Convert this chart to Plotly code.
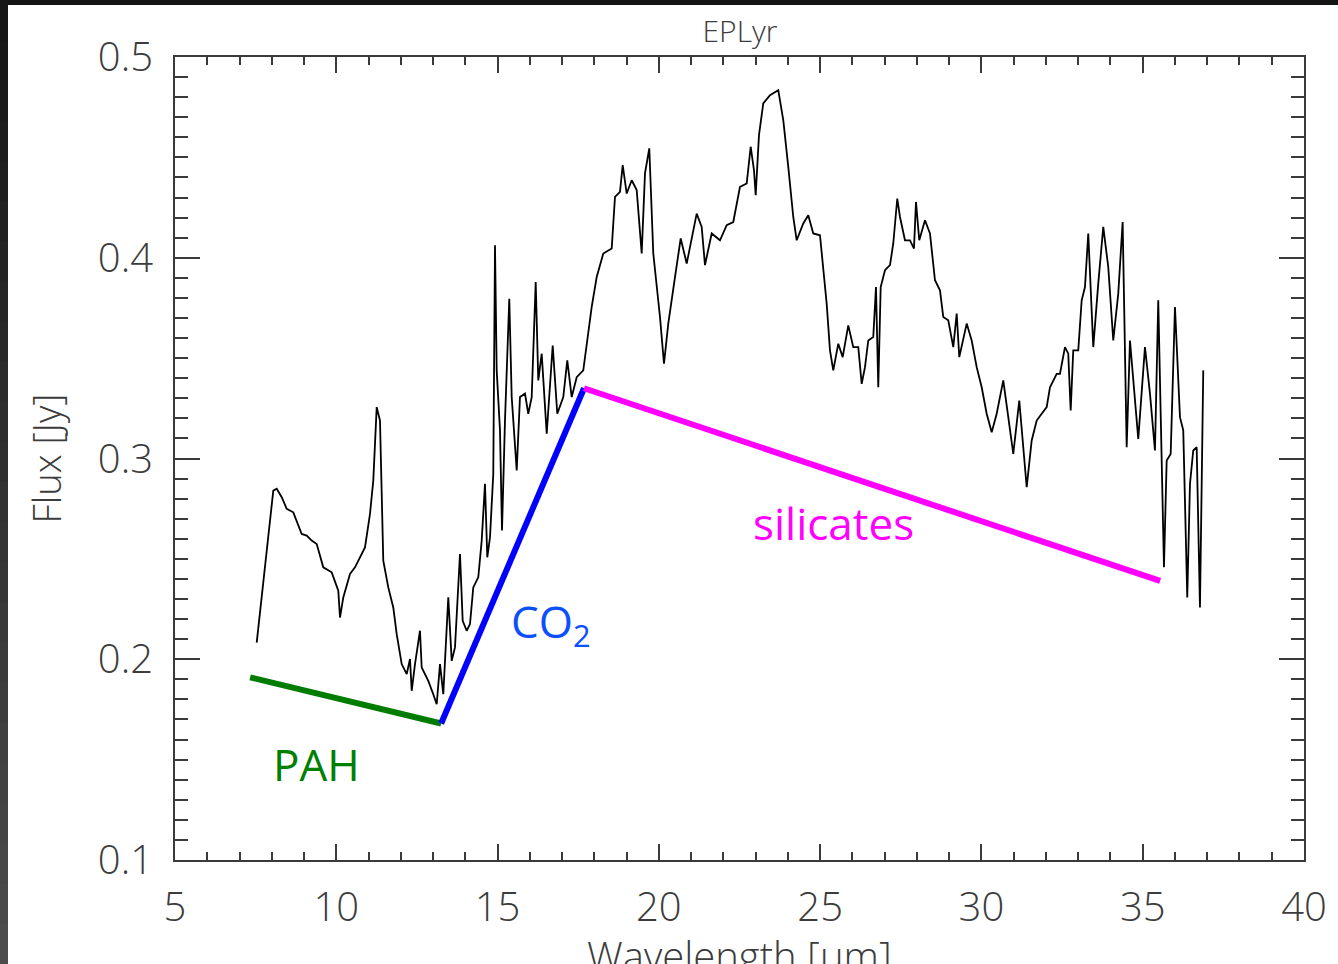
import plotly.graph_objects as go

# ---- data ----
wavelength = [7.533, 8.047, 8.153, 8.308, 8.463, 8.667, 8.928, 9.083, 9.238, 9.393,
              9.597, 9.858, 10.062, 10.115, 10.217, 10.425, 10.58, 10.735, 10.89, 11.045,
              11.147, 11.253, 11.355, 11.457, 11.612, 11.767, 11.873, 12.028, 12.183, 12.285,
              12.338, 12.44, 12.595, 12.648, 12.852, 13.007, 13.113, 13.215, 13.317, 13.472,
              13.578, 13.68, 13.835, 13.919, 14.043, 14.145, 14.247, 14.402, 14.508, 14.61,
              14.681, 14.765, 14.867, 14.92, 14.973, 15.075, 15.137, 15.23, 15.363, 15.438,
              15.593, 15.695, 15.85, 15.952, 16.058, 16.182, 16.262, 16.368, 16.523, 16.709,
              16.851, 17.037, 17.161, 17.298, 17.453, 17.657, 17.812, 17.918, 18.073, 18.277,
              18.538, 18.64, 18.795, 18.879, 19.003, 19.158, 19.313, 19.468, 19.57, 19.703,
              19.827, 20.035, 20.159, 20.292, 20.5, 20.677, 20.863, 21.173, 21.328, 21.43,
              21.638, 21.895, 22.103, 22.307, 22.515, 22.723, 22.847, 22.949, 23.002, 23.104,
              23.237, 23.445, 23.702, 23.857, 24.012, 24.167, 24.273, 24.477, 24.632, 24.787,
              24.995, 25.203, 25.305, 25.407, 25.562, 25.699, 25.872, 26.027, 26.182, 26.288,
              26.39, 26.492, 26.647, 26.731, 26.802, 26.877, 27.01, 27.165, 27.267, 27.391,
              27.475, 27.63, 27.785, 27.909, 27.971, 28.073, 28.25, 28.405, 28.56, 28.715,
              28.817, 28.972, 29.127, 29.233, 29.313, 29.437, 29.543, 29.698, 29.853, 30.008,
              30.163, 30.318, 30.473, 30.677, 30.783, 30.987, 31.173, 31.297, 31.403, 31.558,
              31.713, 31.868, 32.023, 32.125, 32.333, 32.435, 32.59, 32.692, 32.767, 32.847,
              33.002, 33.108, 33.21, 33.312, 33.467, 33.622, 33.777, 33.932, 34.087, 34.242,
              34.378, 34.503, 34.605, 34.862, 35.07, 35.225, 35.38, 35.482, 35.588, 35.659,
              35.743, 35.867, 36.0, 36.155, 36.257, 36.381, 36.465, 36.567, 36.673, 36.775,
              36.877]
flux = [0.2083, 0.2840, 0.2849, 0.2807, 0.2749, 0.2732, 0.2624, 0.2616, 0.2591, 0.2574,
        0.2458, 0.2433, 0.2341, 0.2208, 0.2308, 0.2425, 0.2458, 0.2508, 0.2557, 0.2724,
        0.2890, 0.3256, 0.3189, 0.2491, 0.2358, 0.2258, 0.2125, 0.1976, 0.1926, 0.2001,
        0.1843, 0.1976, 0.2142, 0.1959, 0.1892, 0.1826, 0.1776, 0.1976, 0.1826, 0.2308,
        0.1992, 0.2059, 0.2524, 0.2192, 0.2142, 0.2175, 0.2358, 0.2408, 0.2591, 0.2874,
        0.2508, 0.2607, 0.2923, 0.4062, 0.3439, 0.3140, 0.2641, 0.3189, 0.3796, 0.3306,
        0.2940, 0.3306, 0.3323, 0.3223, 0.3306, 0.3879, 0.3389, 0.3522, 0.3123, 0.3563,
        0.3223, 0.3306, 0.3489, 0.3306, 0.3405, 0.3439, 0.3622, 0.3755, 0.3904, 0.4021,
        0.4046, 0.4303, 0.4328, 0.4461, 0.4320, 0.4386, 0.4337, 0.4021, 0.4420, 0.4545,
        0.4021, 0.3705, 0.3472, 0.3672, 0.3904, 0.4096, 0.3971, 0.4220, 0.4154, 0.3963,
        0.4121, 0.4087, 0.4162, 0.4178, 0.4353, 0.4370, 0.4553, 0.4436, 0.4312, 0.4611,
        0.4769, 0.4810, 0.4835, 0.4686, 0.4453, 0.4203, 0.4087, 0.4171, 0.4212, 0.4121,
        0.4112, 0.3771, 0.3539, 0.3439, 0.3572, 0.3505, 0.3663, 0.3555, 0.3555, 0.3372,
        0.3455, 0.3588, 0.3605, 0.3854, 0.3355, 0.3854, 0.3938, 0.3963, 0.4071, 0.4295,
        0.4203, 0.4087, 0.4087, 0.4046, 0.4278, 0.4087, 0.4187, 0.4121, 0.3888, 0.3838,
        0.3705, 0.3688, 0.3555, 0.3722, 0.3505, 0.3588, 0.3672, 0.3588, 0.3455, 0.3355,
        0.3223, 0.3131, 0.3223, 0.3389, 0.3256, 0.3023, 0.3289, 0.3056, 0.2857, 0.3090,
        0.3189, 0.3223, 0.3256, 0.3355, 0.3422, 0.3422, 0.3555, 0.3522, 0.3239, 0.3539,
        0.3539, 0.3788, 0.3854, 0.4121, 0.3555, 0.3871, 0.4154, 0.3954, 0.3588, 0.3821,
        0.4178, 0.3056, 0.3588, 0.3098, 0.3555, 0.3323, 0.3040, 0.3788, 0.2956, 0.2458,
        0.2990, 0.3023, 0.3755, 0.3206, 0.3140, 0.2308, 0.2874, 0.3040, 0.3056, 0.2258,
        0.3439]

# continuum guide segments
pah_x = [7.33, 13.25]
pah_y = [0.191, 0.168]
co2_x = [13.25, 17.68]
co2_y = [0.168, 0.335]
sil_x = [17.68, 35.54]
sil_y = [0.335, 0.239]

x_ticks = [5, 10, 15, 20, 25, 30, 35, 40]
y_ticks = [0.1, 0.2, 0.3, 0.4, 0.5]

title_text = "EPLyr"
x_title = "Wavelength [\u03bcm]"
y_title = "Flux [Jy]"

labels = [
    dict(text="PAH", x=9.40, y=0.148, color="#008000"),
    dict(text="CO<sub>2</sub>", x=16.65, y=0.218, color="#0a50ff"),
    dict(text="silicates", x=25.4, y=0.268, color="#ff00ff"),
]

# ---- figure ----
W, H = 1338, 964
L, R, T, B = 175, 34, 57, 104
AX = "#3a3a3a"
TXT = "#3c3c3c"
FONT = "Open Sans"

fig = go.Figure()
fig.add_trace(go.Scatter(x=wavelength, y=flux, mode="lines",
                         line=dict(color="black", width=1.8), showlegend=False))
fig.add_trace(go.Scatter(x=pah_x, y=pah_y, mode="lines",
                         line=dict(color="#007d00", width=6), showlegend=False))
fig.add_trace(go.Scatter(x=co2_x, y=co2_y, mode="lines",
                         line=dict(color="#0000ff", width=6), showlegend=False))
fig.add_trace(go.Scatter(x=sil_x, y=sil_y, mode="lines",
                         line=dict(color="#ff00ff", width=6), showlegend=False))

for lab in labels:
    fig.add_annotation(x=lab["x"], y=lab["y"], text=lab["text"], showarrow=False,
                       font=dict(family=FONT, size=44, color=lab["color"]),
                       xanchor="center", yanchor="middle")

# dark window edges (top bar and left gradient strip)
pw = W - L - R
ph = H - T - B
def px_x(p):
    return (p - L) / pw
def px_y(p):
    return (H - B - p) / ph

# x-axis title, partly cut off by the bottom of the window as in the original
fig.add_annotation(x=0.5, y=px_y(926), xref="paper", yref="paper", text=x_title,
                   showarrow=False, xanchor="center", yanchor="top",
                   font=dict(family=FONT, size=40, color=TXT, weight=300))

fig.add_shape(type="rect", xref="paper", yref="paper",
              x0=px_x(0), x1=px_x(W), y0=px_y(5), y1=px_y(0),
              fillcolor="#131313", line_width=0, layer="above")
n = 24
for i in range(n):
    t = i / (n - 1)
    c = int(0x16 + t * (0x4c - 0x16))
    fig.add_shape(type="rect", xref="paper", yref="paper",
                  x0=px_x(0), x1=px_x(8),
                  y0=px_y(H * (i + 1) / n + 1), y1=px_y(H * i / n),
                  fillcolor=f"rgb({c},{c},{c})", line_width=0, layer="above")

fig.update_layout(
    width=W, height=H,
    margin=dict(l=L, r=R, t=T, b=B, autoexpand=False),
    paper_bgcolor="white", plot_bgcolor="white",
    font=dict(family=FONT, color=TXT),
    title=dict(text=title_text, x=740 / W, xanchor="center",
               y=1 - 31 / H, yanchor="middle", yref="container",
               font=dict(family=FONT, size=30, color=TXT, weight=300)),
)

fig.update_xaxes(
    range=[5, 40], tickvals=x_ticks, ticks="inside", ticklen=16, tickwidth=2,
    tickcolor=AX, showline=True, linecolor=AX, linewidth=2, mirror="allticks",
    showgrid=False, zeroline=False, ticklabelstandoff=11,
    tickfont=dict(family=FONT, size=40, color=TXT, weight=300),
    minor=dict(dtick=1, ticks="inside", ticklen=8, tickwidth=2, tickcolor=AX, showgrid=False),
    automargin=False,
)
fig.update_yaxes(
    range=[0.1, 0.5], tickvals=y_ticks, tickformat=".1f", ticks="inside", ticklen=25,
    tickwidth=2, tickcolor=AX, showline=True, linecolor=AX, linewidth=2, mirror="allticks",
    showgrid=False, zeroline=False, ticklabelstandoff=12,
    tickfont=dict(family=FONT, size=40, color=TXT, weight=300),
    minor=dict(dtick=0.01, ticks="inside", ticklen=13, tickwidth=2, tickcolor=AX, showgrid=False),
    title=dict(text=y_title, standoff=24, font=dict(family=FONT, size=38, color=TXT, weight=300)),
    automargin=False,
)

fig.write_html("out.html")
